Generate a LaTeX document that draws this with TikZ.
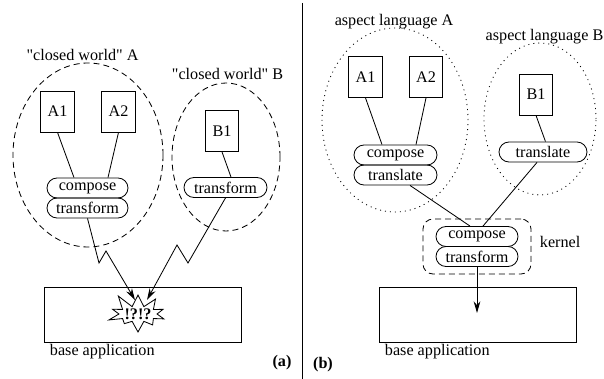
\documentclass[tikz,border=0pt]{standalone}
\usepackage{fontspec}
\setmainfont{Liberation Serif}[Ligatures=TeXOff]
\usetikzlibrary{shapes.geometric,shapes.misc,shapes.symbols,arrows.meta}
\begin{document}
\begin{tikzpicture}[x=0.6pt,y=-0.6pt,line width=0.5pt,
  font=\fontsize{9.7pt}{11pt}\selectfont,
  >={Stealth[length=7pt,width=4pt]},
  world/.style={draw,ellipse,dash pattern=on 3.6pt off 2.4pt},
  lang/.style={draw,ellipse,dash pattern=on 0.6pt off 2.4pt},
  aspect/.style={draw,minimum width=20pt,minimum height=24.6pt,inner sep=0pt},
  op/.style={draw,rounded rectangle,minimum height=12pt,inner sep=0pt},
  base/.style={draw,minimum width=118.2pt,minimum height=33pt}]
\useasboundingbox (0,0) rectangle (604,379);
% separator between (a) and (b)
\draw (302,3)--(302,379);

% (a): two closed worlds
\node[world,minimum width=90pt,minimum height=110.4pt] (wA) at (88,155) {};
\node[world,minimum width=64.8pt,minimum height=88.8pt] (wB) at (226,157) {};
\node (twA) at (82.5,55) {"closed world" A};
\node (twB) at (227.5,74) {"closed world" B};
\node[aspect] (A1) at (57.5,111.5) {A1};
\node[aspect] (A2) at (118.5,111.5) {A2};
\node[aspect] (B1) at (222,131) {B1};
\node[op,minimum width=48.6pt] (compA) at (87.5,188) {compose};
\node[op,minimum width=48.6pt] (trA) at (87.5,208) {transform};
\node[op,minimum width=49.8pt] (trB) at (225.5,187.5) {transform};
\draw (A1.south)--([xshift=-8.1pt]compA.north);
\draw (A2.south)--([xshift=12.3pt]compA.north);
\draw (B1.south)--([xshift=3.3pt]trB.north);
% base application with the clash
\node[base] (baseA) at (142.5,314.5) {};
\node[anchor=west] (tbA) at (44,352) {base application};
\node[draw,starburst,random starburst=11,starburst points=10,starburst point height=9pt,
  minimum width=38pt,minimum height=26pt,inner sep=0pt,font=\fontsize{9.7pt}{11pt}\selectfont\bfseries] (burst) at (138,314) {!?!?};
\coordinate (hitA) at (135,300);
\coordinate (hitB) at (147,300);
\draw[->] (trA.south)--(99,263)--(106,251)--(hitA);
\draw[->] (trB.south)--(188,263)--(177,245)--(hitB);
\node[font=\fontsize{9.7pt}{11pt}\selectfont\bfseries] (la) at (282,363) {(a)};

% (b): aspect languages on a kernel
\node[lang,minimum width=87.6pt,minimum height=110.4pt] (lA) at (395,120) {};
\node[lang,minimum width=67.2pt,minimum height=91.2pt] (lB) at (540,119) {};
\node (tlA) at (394,22) {aspect language A};
\node (tlB) at (544.5,37) {aspect language B};
\node[aspect] (bA1) at (365.5,77) {A1};
\node[aspect] (bA2) at (426,77) {A2};
\node[aspect] (bB1) at (536,94.5) {B1};
\node[op,minimum width=49.8pt] (bcompA) at (395.5,155) {compose};
\node[op,minimum width=49.8pt] (btrlA) at (395.5,175) {translate};
\node[op,minimum width=52.8pt] (btrlB) at (543,152) {translate};
\draw (bA1.south)--([xshift=-8.1pt]bcompA.north);
\draw (bA2.south)--([xshift=12.3pt]bcompA.north);
\draw (bB1.south)--([xshift=1.5pt]btrlB.north);
% kernel
\node[draw,dash pattern=on 3.6pt off 2.4pt,rounded corners=6pt,minimum width=64.8pt,minimum height=33pt] (kern) at (477,246.5) {};
\node[anchor=west] (tk) at (534,242) {kernel};
\node[op,minimum width=49.2pt] (kcomp) at (477,236.5) {compose};
\node[op,minimum width=49.2pt] (ktr) at (477,256.5) {transform};
\draw ([xshift=8.7pt]btrlA.south)--([xshift=-4.2pt]kcomp.north);
\draw ([xshift=-3.6pt]btrlB.south)--([xshift=3.6pt]kcomp.north);
% base application
\node[base] (baseB) at (477.5,314.5) {};
\node[anchor=west] (tbB) at (379,352) {base application};
\coordinate (hitK) at (477,313);
\draw[->] (ktr.south)--(hitK);
\node[font=\fontsize{9.7pt}{11pt}\selectfont\bfseries] (lb) at (323,365) {(b)};
\end{tikzpicture}
\end{document}
